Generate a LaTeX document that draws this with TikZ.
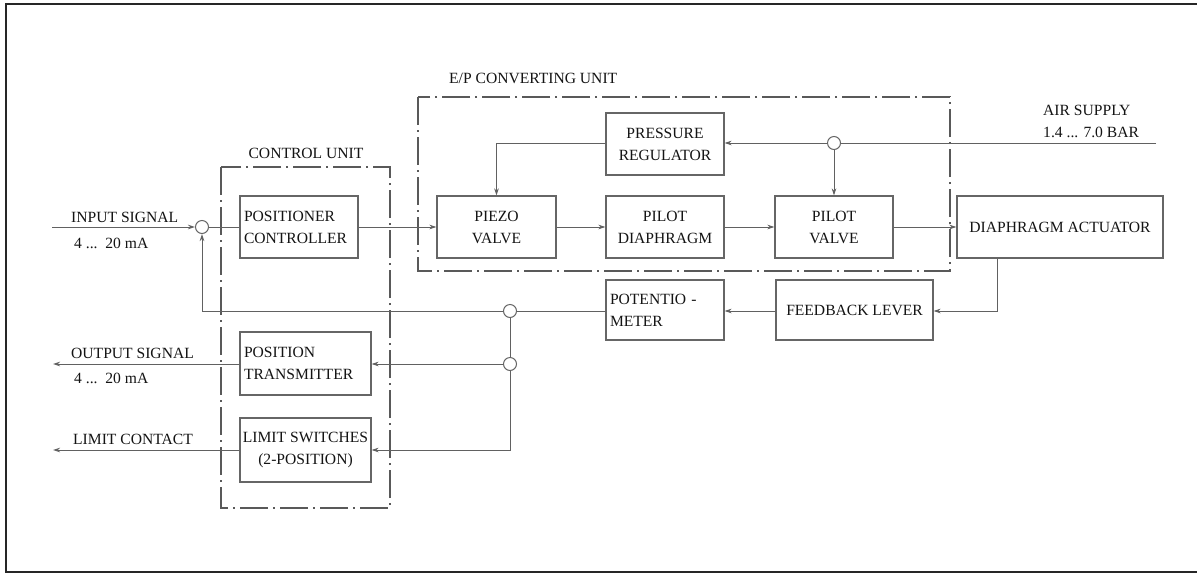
\documentclass[tikz,border=0pt]{standalone}
\usepackage{fontspec}
\setmainfont{Liberation Serif}
\usetikzlibrary{arrows.meta}
\begin{document}
\begin{tikzpicture}[x=1pt,y=-1pt,
  font=\fontsize{15.6}{22}\selectfont,
  line/.style={draw=black!62, line width=1pt},
  arr/.style={line, -{Stealth[length=7pt,width=4.5pt]}},
  blk/.style={draw=black!60, line width=1.1pt, text=black!92, inner sep=0pt, align=center},
  lblk/.style={draw=black!60, line width=1.1pt, text=black!92, inner xsep=4pt, inner ysep=0pt, align=left},
  junc/.style={circle, draw=black!60, line width=1pt, fill=white, minimum size=13pt, inner sep=0pt},
  unit/.style={draw=black!65, line width=1.8pt, dash pattern=on 28pt off 5pt on 2pt off 5pt},
  lbl/.style={text=black!92, inner sep=0pt}]
\useasboundingbox (0,0) rectangle (1197,574);
\fill[white] (0,0) rectangle (1197,574);
\draw[black!85, line width=2.2pt] (1197,4) -- (6,4) -- (6,572) -- (1197,572);

% unit frames
\draw[unit] (221,167) rectangle (390,508);
\draw[unit] (418,97) rectangle (950,271);
\node[lbl] (cul) at (306,153) {CONTROL UNIT};
\node[lbl, anchor=west] (epl) at (449,78) {E/P CONVERTING UNIT};

% blocks
\node[lblk, minimum width=118pt, minimum height=62pt, text width=110pt] (pc) at (299,227) {POSITIONER\\CONTROLLER};
\node[blk, minimum width=119pt, minimum height=62pt] (pz) at (496.5,227) {PIEZO\\VALVE};
\node[blk, minimum width=118pt, minimum height=62pt] (pd) at (665,227) {PILOT\\DIAPHRAGM};
\node[blk, minimum width=118pt, minimum height=62pt] (pv) at (834,227) {PILOT\\VALVE};
\node[blk, minimum width=206pt, minimum height=62pt] (da) at (1060,227) {DIAPHRAGM ACTUATOR};
\node[blk, minimum width=118pt, minimum height=62pt] (pr) at (665,144) {PRESSURE\\REGULATOR};
\node[lblk, minimum width=118pt, minimum height=60pt, text width=110pt] (pm) at (665,310) {POTENTIO -\\METER};
\node[blk, minimum width=157pt, minimum height=60pt] (fl) at (854.5,310) {FEEDBACK LEVER};
\node[lblk, minimum width=131pt, minimum height=63pt, text width=123pt] (pt) at (305.5,363.5) {POSITION\\TRANSMITTER};
\node[blk, minimum width=131pt, minimum height=64pt] (ls) at (305.5,450) {LIMIT SWITCHES\\(2-POSITION)};

% junctions
\node[junc] (j1) at (202,227) {};
\node[junc] (j2) at (834,143) {};
\node[junc] (j3) at (510,311) {};
\node[junc] (j4) at (510,364) {};

% free ends
\coordinate (inS) at (52,227);
\coordinate (air) at (1156,143);
\coordinate (outE) at (53,364);
\coordinate (limE) at (53,450);

% labels
\node[lbl, anchor=west] (inl) at (71,217) {INPUT SIGNAL};
\node[lbl, anchor=west] (inr) at (74,243) {4 ...\ \ 20 mA};
\node[lbl, align=left, anchor=west] (airl) at (1043,121) {AIR SUPPLY\\1.4 ... 7.0 BAR};
\node[lbl, anchor=west] (outl) at (71,353) {OUTPUT SIGNAL};
\node[lbl, anchor=west] (outr) at (74,378) {4 ...\ \ 20 mA};
\node[lbl, anchor=west] (liml) at (73,439) {LIMIT CONTACT};

% connectors
\draw[arr] (inS) -- (j1);
\draw[line] (j1) -- (pc);
\draw[arr] (pc) -- (pz);
\draw[arr] (pz) -- (pd);
\draw[arr] (pd) -- (pv);
\draw[arr] (pv) -- (da);
\draw[line] (air) -- (j2);
\draw[arr] (j2) -- (pr.east |- j2);
\draw[arr] (j2) -- (pv);
\draw[arr] (pr.west |- j2) -| (pz.north);
\draw[arr] (da.south -| 997,0) |- (fl.east |- 0,311);
\draw[arr] (fl.west |- 0,311) -- (pm.east |- 0,311);
\draw[line] (pm.west |- j3) -- (j3);
\draw[arr] (j3) -| (j1);
\draw[line] (j3) -- (j4);
\draw[arr] (j4) -- (pt.east |- j4);
\draw[arr] (j4) |- (ls.east);
\draw[arr] (pt.west |- j4) -- (outE);
\draw[arr] (ls.west) -- (limE);
\end{tikzpicture}
\end{document}
